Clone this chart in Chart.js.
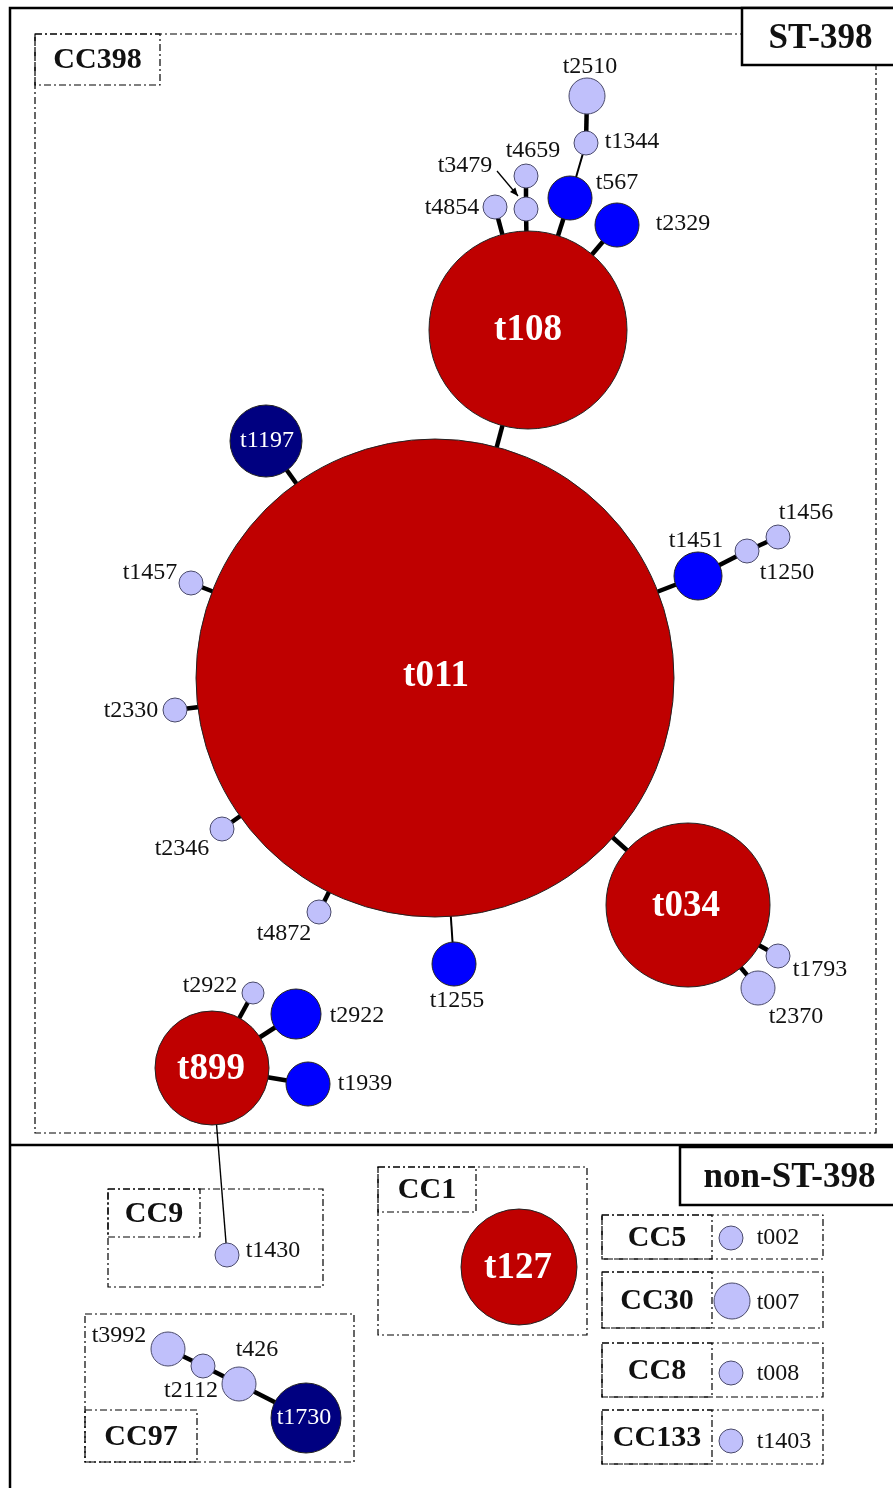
<!DOCTYPE html>
<html>
<head>
<meta charset="utf-8">
<script src="https://cdn.jsdelivr.net/npm/chart.js@4/dist/chart.umd.min.js"></script>
<style>
  html, body { margin: 0; padding: 0; background: #fff; }
  #wrap { width: 893px; height: 1488px; position: relative; }
</style>
</head>
<body>
<div id="wrap"><canvas id="mst" width="893" height="1488"></canvas></div>
<script>
// spa-типы (узлы дерева)
const nodeIds    = ['t011','t108','t034','t899','t127','t1197','t1730','t1451','t1255','t567','t2329','t2922b','t1939',
                    't1250','t1456','t1457','t2330','t2346','t4872','t1793','t2370','t2922a','t1430','t2510','t1344',
                    't4659','t3479','t4854','t3992','t2112','t426','t002','t007','t008','t1403'];
const nodeLabels = ['t011','t108','t034','t899','t127','t1197','t1730','t1451','t1255','t567','t2329','t2922','t1939',
                    't1250','t1456','t1457','t2330','t2346','t4872','t1793','t2370','t2922','t1430','t2510','t1344',
                    't4659','t3479','t4854','t3992','t2112','t426','t002','t007','t008','t1403'];
const nodeX      = [435, 528, 688, 212, 519, 266, 306, 698, 454, 570, 617, 296, 308,
                    747, 778, 191, 175, 222, 319, 778, 758, 253, 227, 587, 586,
                    526, 526, 495, 168, 203, 239, 731, 732, 731, 731];
const nodeY      = [678, 330, 905, 1068, 1267, 441, 1418, 576, 964, 198, 225, 1014, 1084,
                    551, 537, 583, 710, 829, 912, 956, 988, 993, 1255, 96, 143,
                    176, 209, 207, 1349, 1366, 1384, 1238, 1301, 1373, 1441];
const nodeSize   = [239, 99, 82, 57, 58, 36, 35, 24, 22, 22, 22, 25, 22,
                    12, 12, 12, 12, 12, 12, 12, 17, 11, 12, 18, 12,
                    12, 12, 12, 17, 12, 17, 12, 18, 12, 12];
const nodeClass  = ['major','major','major','major','major','dark','dark','mid','mid','mid','mid','mid','mid',
                    'minor','minor','minor','minor','minor','minor','minor','minor','minor','minor','minor','minor',
                    'minor','minor','minor','minor','minor','minor','minor','minor','minor','minor'];

// подписи (центр текста)
const labelX = [436, 528, 686, 211, 518, 267, 304, 696, 457, 617, 683, 357, 365,
                787, 806, 150, 131, 182, 284, 820, 796, 210, 273, 590, 632,
                533, 465, 452, 119, 191, 257, 778, 778, 778, 784];
const labelY = [676, 330, 906, 1069, 1268, 441, 1418, 541, 1001, 183, 224, 1016, 1084,
                573, 513, 573, 711, 849, 934, 970, 1017, 986, 1251, 67, 142,
                151, 166, 208, 1336, 1391, 1350, 1238, 1303, 1374, 1442];

// рёбра дерева: откуда, куда, класс расстояния (1 — близко, 3 — далеко)
const edgeFrom = ['t011','t011','t011','t1451','t1250','t011','t011','t011','t011','t011','t011','t034','t034',
                  't108','t108','t3479','t108','t567','t1344','t108','t899','t899','t899','t899','t3992','t2112','t426'];
const edgeTo   = ['t108','t1197','t1451','t1250','t1456','t1457','t2330','t2346','t4872','t1255','t034','t1793','t2370',
                  't4854','t3479','t4659','t567','t1344','t2510','t2329','t2922a','t2922b','t1939','t1430','t2112','t426','t1730'];
const edgeDist = [1,1,1,1,1,1,1,1,1,2,1,1,1,
                  1,1,1,1,2,1,1,1,1,1,3,1,1,1];

const COLORS = { major: '#bf0000', dark: '#000080', mid: '#0000ff', minor: '#c0c0fb' };
const EDGE_W = { 1: 4.5, 2: 2, 3: 1.4 };
const SERIF = '"Liberation Serif", "Times New Roman", serif';

// рамки групп
const groupName = ['CC398','CC9','CC1','CC97','CC5','CC30','CC8','CC133'];
const groupBox  = [[35,34,876,1133],[108,1189,323,1287],[378,1167,587,1335],[85,1314,354,1462],
                   [602,1215,823,1259],[602,1272,823,1328],[602,1343,823,1397],[602,1410,823,1464]];
const groupTag  = [[35,34,160,85],[108,1189,200,1237],[378,1167,476,1212],[85,1410,197,1462],
                   [602,1215,712,1259],[602,1272,712,1328],[602,1343,712,1397],[602,1410,712,1464]];

const idx = id => nodeIds.indexOf(id);

const edgeSets = edgeFrom.map((f, i) => ({
    type: 'line',
    data: [{ x: nodeX[idx(f)], y: nodeY[idx(f)] }, { x: nodeX[idx(edgeTo[i])], y: nodeY[idx(edgeTo[i])] }],
    borderColor: '#000',
    borderWidth: EDGE_W[edgeDist[i]],
    pointRadius: 0,
    showLine: true,
    fill: false,
    order: 5,
    clip: false
}));

const nodeSet = {
    type: 'bubble',
    data: nodeIds.map((id, i) => ({ x: nodeX[i], y: nodeY[i], r: nodeSize[i] })),
    backgroundColor: nodeClass.map(c => COLORS[c]),
    borderColor: nodeClass.map(c => c === 'minor' ? '#4a4a6a' : '#222'),
    borderWidth: 1,
    order: 1,
    clip: false
};

const framePlugin = {
    id: 'frame',
    beforeDatasetsDraw(chart) {
        const { ctx, scales: { x, y } } = chart;
        const px = v => x.getPixelForValue(v), py = v => y.getPixelForValue(v);
        ctx.save();
        // внешняя рамка
        ctx.strokeStyle = '#000';
        ctx.lineWidth = 2.5;
        ctx.beginPath();
        ctx.moveTo(px(893), py(8)); ctx.lineTo(px(10), py(8)); ctx.lineTo(px(10), py(1488));
        ctx.moveTo(px(10), py(1145)); ctx.lineTo(px(893), py(1145));
        ctx.stroke();
        // пунктирные рамки групп
        ctx.lineWidth = 1.2;
        ctx.setLineDash([7, 3, 2, 3]);
        groupBox.forEach((b, i) => {
            ctx.strokeRect(px(b[0]), py(b[1]), px(b[2]) - px(b[0]), py(b[3]) - py(b[1]));
            const t = groupTag[i];
            ctx.strokeRect(px(t[0]), py(t[1]), px(t[2]) - px(t[0]), py(t[3]) - py(t[1]));
        });
        ctx.setLineDash([]);
        ctx.restore();
    },
    afterDatasetsDraw(chart) {
        const { ctx, scales: { x, y } } = chart;
        const px = v => x.getPixelForValue(v), py = v => y.getPixelForValue(v);
        ctx.save();
        ctx.textBaseline = 'middle';
        ctx.textAlign = 'center';
        // подписи узлов
        nodeLabels.forEach((lab, i) => {
            const c = nodeClass[i];
            if (c === 'major') {
                ctx.font = 'bold 37px ' + SERIF;
                ctx.fillStyle = '#fff';
            } else if (c === 'dark') {
                ctx.font = '24px ' + SERIF;
                ctx.fillStyle = '#fff';
            } else {
                ctx.font = '24px ' + SERIF;
                ctx.fillStyle = '#111';
            }
            ctx.fillText(lab, px(labelX[i]), py(labelY[i]));
        });
        // стрелка к t3479
        const ax0 = px(497), ay0 = py(171), ax1 = px(518), ay1 = py(196);
        ctx.strokeStyle = '#000';
        ctx.lineWidth = 1.3;
        ctx.beginPath(); ctx.moveTo(ax0, ay0); ctx.lineTo(ax1, ay1); ctx.stroke();
        const ang = Math.atan2(ay1 - ay0, ax1 - ax0);
        ctx.fillStyle = '#000';
        ctx.beginPath();
        ctx.moveTo(ax1, ay1);
        ctx.lineTo(ax1 - 9 * Math.cos(ang - 0.4), ay1 - 9 * Math.sin(ang - 0.4));
        ctx.lineTo(ax1 - 9 * Math.cos(ang + 0.4), ay1 - 9 * Math.sin(ang + 0.4));
        ctx.closePath(); ctx.fill();
        // названия групп
        ctx.fillStyle = '#111';
        ctx.font = 'bold 30px ' + SERIF;
        groupName.forEach((g, i) => {
            const t = groupTag[i];
            ctx.fillText(g, px((t[0] + t[2]) / 2), py((t[1] + t[3]) / 2 + 1));
        });
        // заголовки ST-398 / non-ST-398
        ctx.lineWidth = 2.5;
        ctx.strokeStyle = '#000';
        ctx.fillStyle = '#fff';
        [[742, 8, 893, 65, 'ST-398'], [680, 1147, 893, 1205, 'non-ST-398']].forEach(b => {
            ctx.fillRect(px(b[0]), py(b[1]), px(b[2]) - px(b[0]), py(b[3]) - py(b[1]));
            ctx.strokeRect(px(b[0]), py(b[1]), px(b[2]) - px(b[0]) + 4, py(b[3]) - py(b[1]));
            ctx.fillStyle = '#111';
            ctx.font = 'bold 35px ' + SERIF;
            ctx.fillText(b[4], px((b[0] + b[2]) / 2 + 3), py((b[1] + b[3]) / 2 + 2));
            ctx.fillStyle = '#fff';
        });
        ctx.restore();
    }
};

new Chart(document.getElementById('mst'), {
    data: { datasets: [...edgeSets, nodeSet] },
    options: {
        responsive: false,
        animation: false,
        layout: { padding: 0, autoPadding: false },
        plugins: { legend: { display: false }, tooltip: { enabled: false } },
        scales: {
            x: { type: 'linear', min: 0, max: 893, display: false },
            y: { type: 'linear', min: 0, max: 1488, reverse: true, display: false }
        }
    },
    plugins: [framePlugin]
});
</script>
</body>
</html>
